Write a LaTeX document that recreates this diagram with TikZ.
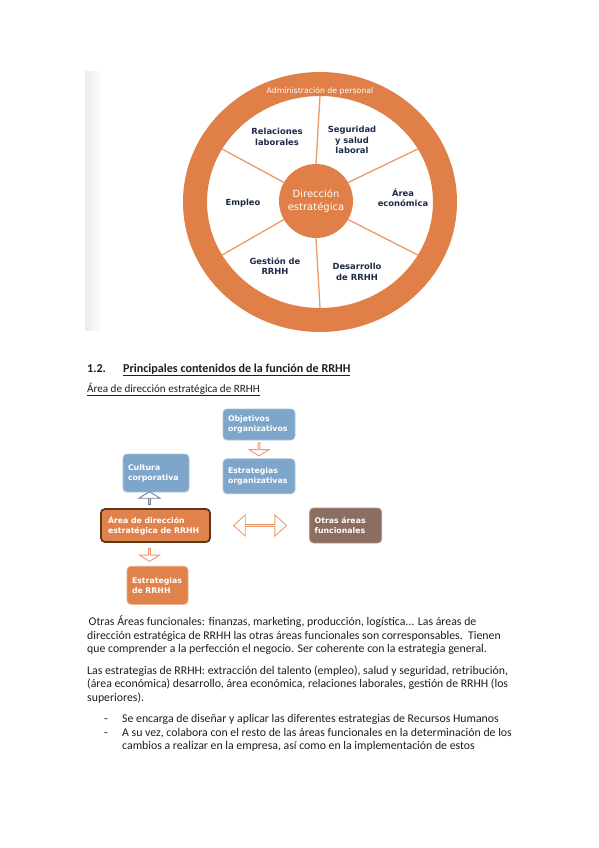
\documentclass[tikz,border=0pt]{standalone}
\usepackage{fontspec}
\setmainfont{Carlito}
\newfontfamily\chartfont{DejaVu Sans}
\usepackage{xcolor}
\usepackage{tikz}
\usetikzlibrary{positioning,shapes.arrows}

\definecolor{ringorange}{HTML}{E07F47}
\definecolor{spokeorange}{HTML}{EB9C6E}
\definecolor{labelnavy}{HTML}{1F2B4A}
\definecolor{boxblue}{HTML}{7DA6CA}
\definecolor{boxblueline}{HTML}{A9C5DD}
\definecolor{boxorange}{HTML}{E0824B}
\definecolor{boxorangeline}{HTML}{EDA77C}
\definecolor{boxbrown}{HTML}{8B6E60}
\definecolor{darkrim}{HTML}{5A3818}
\definecolor{arrowgrey}{HTML}{6F84A0}
\definecolor{bodytext}{HTML}{1E1E1E}

\tikzset{every node/.style={font=\fontsize{11.8}{13.5}\selectfont, text=bodytext, inner sep=0pt}}

\begin{document}
\begin{tikzpicture}[x=1pt, y=-1pt,
  wheeltext/.style={font=\chartfont\bfseries\fontsize{8.4}{10.3}\selectfont, text=labelnavy, align=center},
  chartbox/.style={rounded corners=4pt, font=\chartfont\bfseries\fontsize{7.8}{10}\selectfont, text=white, align=left, inner xsep=5pt},
  bluebox/.style={chartbox, fill=boxblue, draw=boxblueline, line width=0.8pt},
  orangebox/.style={chartbox, fill=boxorange, draw=boxorangeline, line width=0.8pt},
  brownbox/.style={chartbox, fill=boxbrown, draw=boxbrown!70!white, line width=0.8pt},
  downarrow/.style={single arrow, draw=spokeorange, fill=white, line width=0.9pt, minimum height=13pt, minimum width=20pt, single arrow head extend=5pt, single arrow tip angle=116, shape border rotate=270},
  uparrow/.style={downarrow, draw=arrowgrey, minimum width=21pt, shape border rotate=90},
  twoway/.style={double arrow, draw=spokeorange, fill=white, line width=0.9pt, minimum height=53pt, minimum width=21pt, double arrow head extend=5pt, double arrow tip angle=84}]

\fill[white] (0,0) rectangle (599,848);
\useasboundingbox (0,0) rectangle (599,848);

% wheel picture
\shade[left color=black!7, right color=white] (85,72) rectangle (103,330);
\fill[ringorange, even odd rule] (320,202) ellipse [x radius=137pt, y radius=130pt]
  (320,202) ellipse [x radius=113pt, y radius=106pt];
\node[circle, fill=ringorange, minimum size=74pt, align=center, text=white,
  font=\chartfont\fontsize{10}{13}\selectfont] (dir) at (316,201) {Dirección\\estratégica};
\foreach \a [count=\i] in {90,30,-30,-90,-150,150} {
  \coordinate (rim\i) at ([shift={(\a:113pt and 106pt)}]320,202);
  \draw[spokeorange, line width=1.3pt] (dir.\a) -- (rim\i);
}
\node[text=white, font=\chartfont\fontsize{7.8}{9}\selectfont] (adm) at (320,91) {Administración de personal};
\node[wheeltext] (rel) at (277,137) {Relaciones\\laborales};
\node[wheeltext] (seg) at (352,140) {Seguridad\\y salud\\laboral};
\node[wheeltext] (eco) at (403,198) {Área\\económica};
\node[wheeltext] (emp) at (243,203) {Empleo};
\node[wheeltext] (ges) at (275,266) {Gestión de\\RRHH};
\node[wheeltext] (des) at (357,272) {Desarrollo\\de RRHH};

% headings
\node[anchor=base west, font=\bfseries\fontsize{12.1}{13.5}\selectfont] (secnum) at (87,372) {1.2.};
\node[anchor=base west, font=\bfseries\fontsize{12.1}{13.5}\selectfont] (sectitle) at (123,372) {\underline{Principales contenidos de la función de RRHH}};
\node[anchor=base west, font=\fontsize{11.1}{13.5}\selectfont] (subtitle) at (87,392) {\underline{Área de dirección estratégica de RRHH}};

% box diagram
\node[bluebox, text width=62pt, minimum height=31pt] (obj) at (259,424.5) {Objetivos\\organizativos};
\node[downarrow, below=2pt of obj] (objarrow) {};
\node[bluebox, text width=62pt, minimum height=35pt, below=2pt of objarrow] (estorg) {Estrategias\\organizativas};
\node[bluebox, text width=56pt, minimum height=38pt] (cult) at (156,473) {Cultura\\corporativa};
\node[orangebox, draw=darkrim, line width=1.8pt, inner xsep=7pt, text width=95pt, minimum height=33pt] (areadir) at (155.5,525.5) {Área de dirección\\estratégica de RRHH};
\node[uparrow, above=3pt of areadir, xshift=-6pt] (cultarrow) {};
\node[twoway, right=22pt of areadir] (swap) {};
\node[brownbox, text width=62pt, minimum height=35pt, right=22pt of swap] (otras) {Otras áreas\\funcionales};
\node[downarrow, below=5pt of areadir, xshift=-6pt] (rrhharrow) {};
\node[orangebox, text width=51pt, minimum height=38pt, below=4pt of rrhharrow, xshift=8pt] (estrrhh) {Estrategias\\de RRHH};

% body text
\node[anchor=north west, align=left] (para1) at (87,615.5) {\strut\hspace{1.5pt}Otras Áreas funcionales: finanzas, marketing, producción, logística... Las áreas de\\
dirección estratégica de RRHH las otras áreas funcionales son corresponsables.\ \ Tienen\\
que comprender a la perfección el negocio. Ser coherente con la estrategia general.};
\node[anchor=north west, align=left] (para2) at (87,664.5) {\strut Las estrategias de RRHH: extracción del talento (empleo), salud y seguridad, retribución,\\
(área económica) desarrollo, área económica, relaciones laborales, gestión de RRHH (los\\
superiores).};
\node[anchor=north west, align=left] (dashes) at (104,713) {\strut-\\-};
\node[anchor=north west, align=left] (bullets) at (122,713) {\strut Se encarga de diseñar y aplicar las diferentes estrategias de Recursos Humanos\\
A su vez, colabora con el resto de las áreas funcionales en la determinación de los\\
cambios a realizar en la empresa, así como en la implementación de estos};

\end{tikzpicture}
\end{document}
